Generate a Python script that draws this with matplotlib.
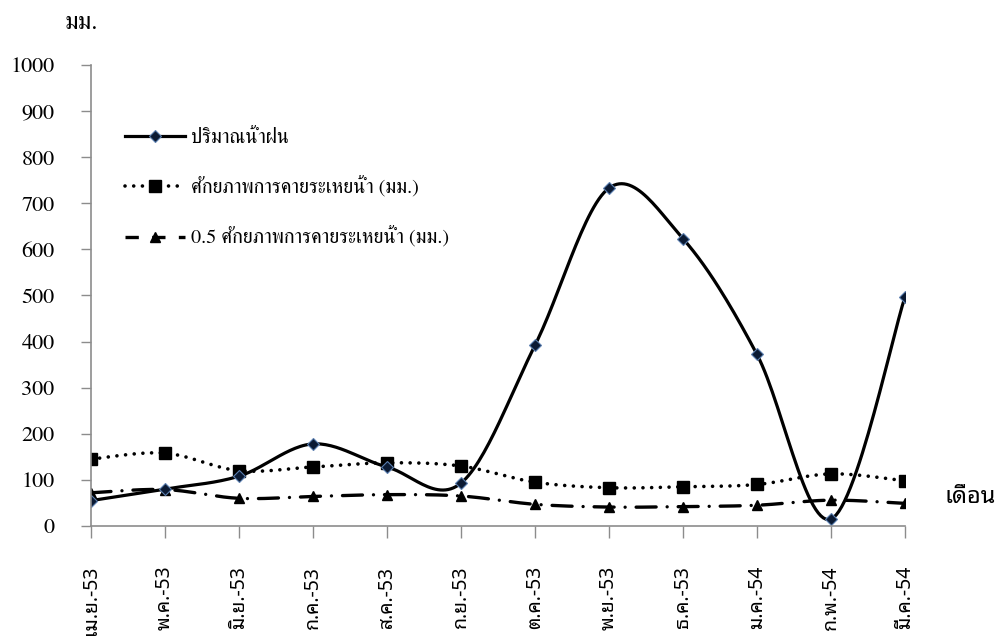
import numpy as np
import matplotlib
matplotlib.use("Agg")
import matplotlib.pyplot as plt
from matplotlib.lines import Line2D

months = ["เม.ย.-53", "พ.ค.-53", "มิ.ย.-53", "ก.ค.-53", "ส.ค.-53", "ก.ย.-53",
          "ต.ค.-53", "พ.ย.-53", "ธ.ค.-53", "ม.ค.-54", "ก.พ.-54", "มี.ค.-54"]
rain = [55, 80, 108, 178, 128, 93, 392, 733, 623, 372, 15, 497]
pet = [145, 158, 120, 128, 137, 130, 95, 83, 85, 90, 113, 98]
half_pet = [72, 79, 60, 64, 68, 65, 47, 41, 42, 45, 56, 49]

labels = ["ปริมาณน้ำฝน", "ศักยภาพการคายระเหยน้ำ (มม.)", "0.5 ศักยภาพการคายระเหยน้ำ (มม.)"]
yticks = [0, 100, 200, 300, 400, 500, 600, 700, 800, 900, 1000]

SERIF = ["FreeSerif", "Liberation Serif"]
SANS = ["Noto Sans Thai Looped", "DejaVu Sans"]
AXC = "#8c8c8c"


def smooth(y, n=30):
    # excel style smoothed line: catmull-rom as cubic bezier pieces
    x = np.arange(len(y), dtype=float)
    p = np.column_stack([x, np.asarray(y, dtype=float)])
    pts = [p[0]]
    t = np.linspace(0, 1, n)[1:, None]
    for i in range(len(p) - 1):
        p0 = p[i - 1] if i > 0 else p[i]
        p3 = p[i + 2] if i + 2 < len(p) else p[i + 1]
        c1 = p[i] + (p[i + 1] - p0) / 6
        c2 = p[i + 1] - (p3 - p[i]) / 6
        seg = ((1 - t) ** 3) * p[i] + 3 * ((1 - t) ** 2) * t * c1 \
            + 3 * (1 - t) * t ** 2 * c2 + t ** 3 * p[i + 1]
        pts.extend(seg)
    pts = np.array(pts)
    return pts[:, 0], pts[:, 1]


fig = plt.figure(figsize=(10, 6.43), dpi=100)
ax = fig.add_axes([0.091, 0.182, 0.814, 0.717])

x = np.arange(len(months))
dotted = (0, (0.01, 2.4))
dashdot = (0, (6, 3.3, 0.01, 3.3))

sx, sy = smooth(pet)
ax.plot(sx, sy, color="black", lw=2.6, linestyle=dotted, dash_capstyle="round")
ax.plot(x, pet, "s", color="black", ms=8)

sx, sy = smooth(half_pet)
ax.plot(sx, sy, color="black", lw=2.4, linestyle=dashdot, dash_capstyle="round")
ax.plot(x, half_pet, "^", color="black", ms=7.5)

sx, sy = smooth(rain)
ax.plot(sx, sy, color="black", lw=2.3, solid_capstyle="round")
ax.plot(x, rain, "D", color="#0b1a33", mec="#5b7fb0", mew=0.8, ms=6)

ax.set_xlim(0, 11)
ax.set_ylim(0, 1000)
ax.set_yticks(yticks)
ax.set_xticks(x)
ax.set_xticklabels(months, rotation=90, va="top", ha="center", family=SANS, fontsize=14)
for lab in ax.get_yticklabels():
    lab.set_family(SERIF)
    lab.set_fontsize(16)
ax.tick_params(axis="y", length=7.2, width=1, color=AXC, pad=19)
ax.tick_params(axis="x", length=8.6, width=1, color=AXC, pad=20)
for s in ["top", "right"]:
    ax.spines[s].set_visible(False)
for s in ["left", "bottom"]:
    ax.spines[s].set_color(AXC)
    ax.spines[s].set_linewidth(1.2)

handles = [
    Line2D([], [], color="black", lw=2.3, marker="D", ms=6, mfc="#0b1a33", mec="#5b7fb0", mew=0.8),
    Line2D([], [], color="black", lw=2.6, linestyle=dotted, dash_capstyle="round", marker="s", ms=8),
    Line2D([], [], color="black", lw=2.4, linestyle=(0, (4, 4)), marker="^", ms=7.5),
]
ax.legend(handles, labels, loc="upper left", bbox_to_anchor=(0.125, 0.80),
          bbox_transform=fig.transFigure, frameon=False, numpoints=1,
          handlelength=3.0, handletextpad=0.3, labelspacing=1.45, borderpad=0,
          borderaxespad=0, prop={"family": SERIF, "size": 14.5})

fig.text(0.081, 0.965, "มม.", family=SERIF, fontsize=18, ha="center", va="center")
fig.text(0.97, 0.227, "เดือน", family=SANS, fontsize=17, ha="center", va="center")

fig.savefig("out.png", dpi=100)
